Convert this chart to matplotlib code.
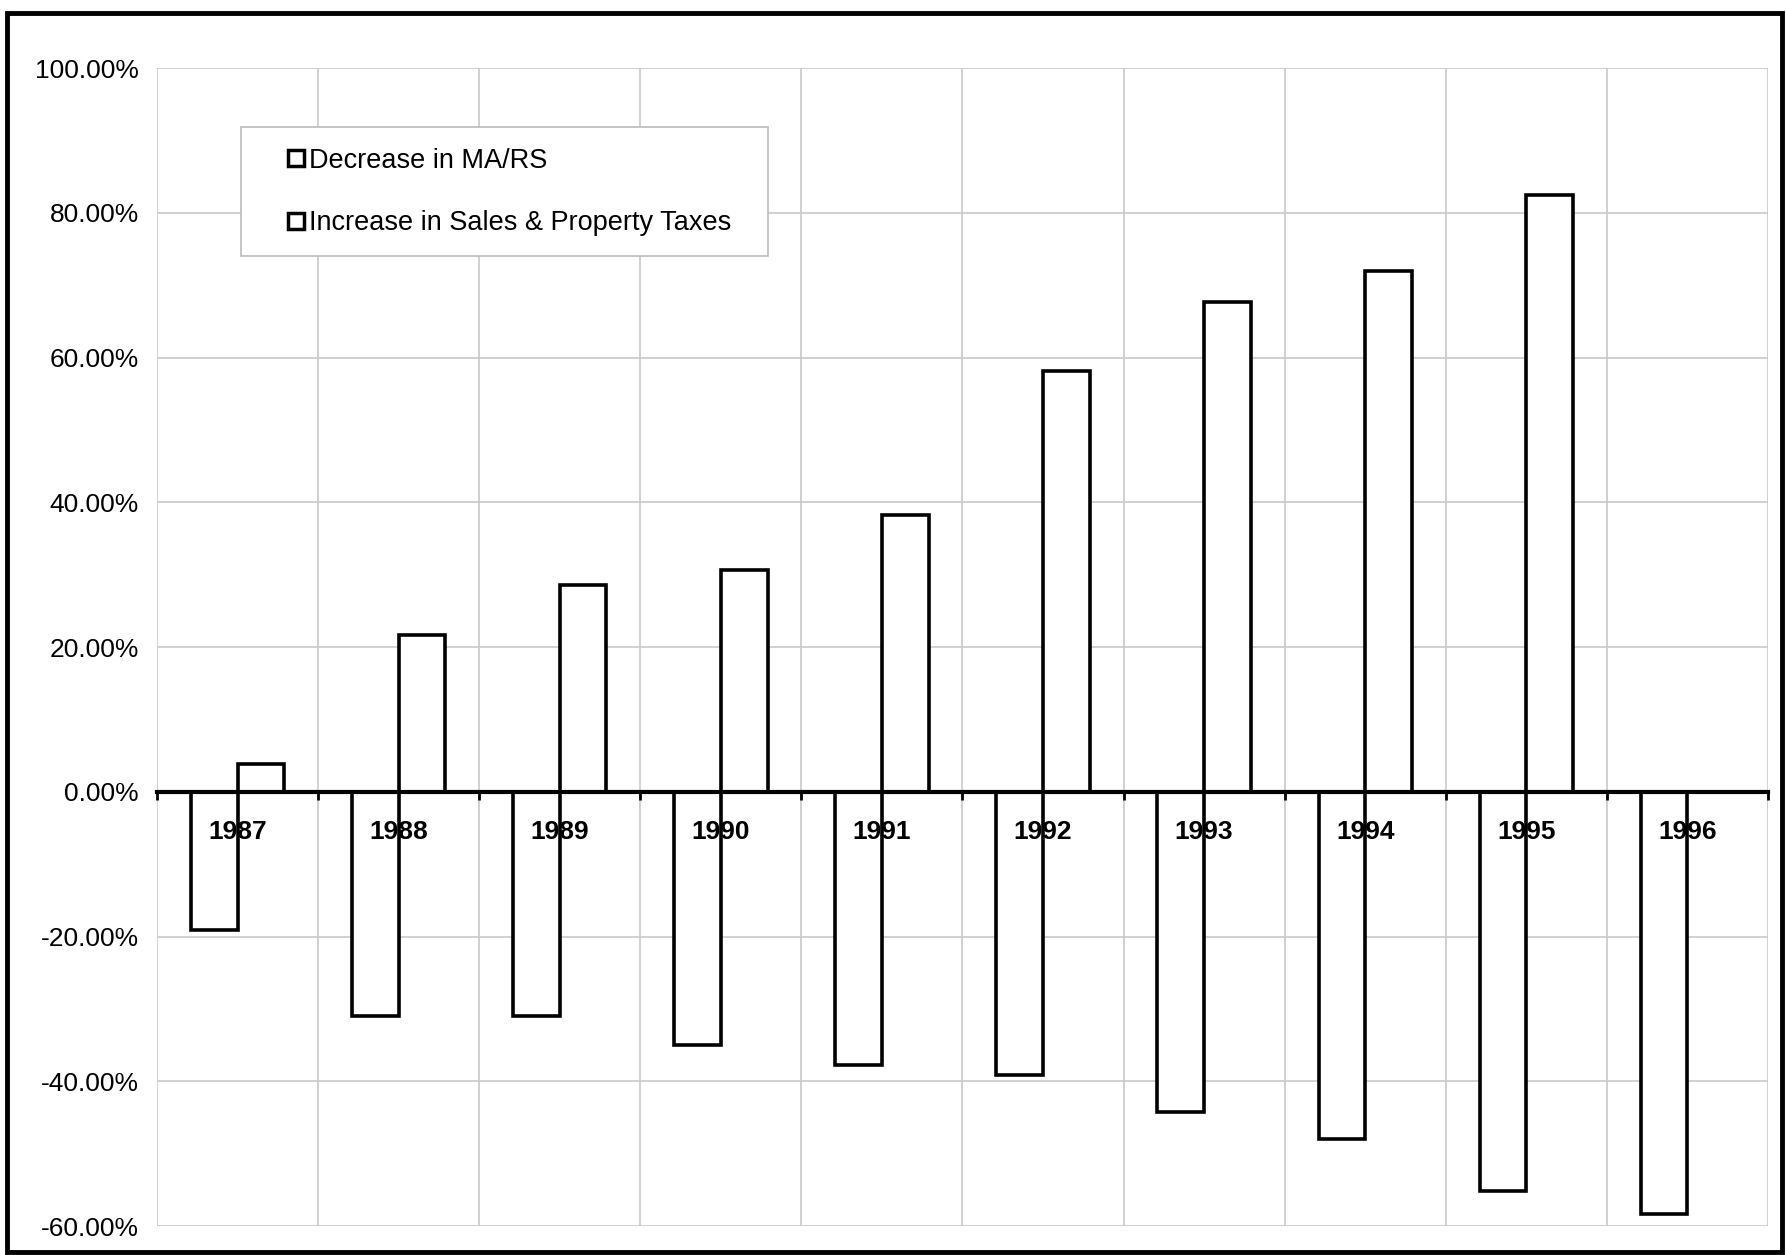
import matplotlib
matplotlib.use("Agg")
import matplotlib.pyplot as plt
from matplotlib.lines import Line2D
from matplotlib.patches import Rectangle
import numpy as np

# data (percent)
years = ['1987', '1988', '1989', '1990', '1991', '1992', '1993', '1994', '1995', '1996']
decrease_mars = [-19.1, -31.0, -31.0, -35.0, -37.8, -39.2, -44.3, -48.0, -55.1, -58.3]
increase_taxes = [3.8, 21.7, 28.5, 30.7, 38.3, 58.1, 67.7, 72.0, 82.4, np.nan]
yticks = [-60, -40, -20, 0, 20, 40, 60, 80, 100]
legend_labels = ['Decrease in MA/RS', 'Increase in Sales & Property Taxes']

plt.rcParams['font.family'] = ['Liberation Sans', 'DejaVu Sans']

fig = plt.figure(figsize=(17.86, 12.55), dpi=100)
ax = fig.add_axes([0.0879, 0.0231, 0.902, 0.9227])

x = np.arange(len(years))
w = 0.29
grid_col = '#c8c8c8'

# white fill first, labels in between, outlines on top
for off, vals in [(-w / 2, decrease_mars), (w / 2, increase_taxes)]:
    ax.bar(x + off, vals, width=w, color='white', edgecolor='none', zorder=2)
    ax.bar(x + off, vals, width=w, facecolor='none', edgecolor='black', linewidth=2.6, zorder=4)

for i, yr in enumerate(years):
    ax.annotate(yr, (x[i], 0), xytext=(0, -29), textcoords='offset points',
                ha='center', va='center', fontsize=19, fontweight='bold', zorder=3)

ax.set_xlim(-0.5, len(years) - 0.5)
ax.set_ylim(-60, 100)
ax.set_yticks(yticks)
ax.set_yticklabels(['%.2f%%' % v for v in yticks], fontsize=19)
ax.tick_params(axis='y', length=0, pad=13)

ax.set_xticks(np.arange(-0.5, len(years) + 0.5, 1))
ax.set_xticklabels([])
ax.tick_params(axis='x', direction='out', length=6, width=2, color='black')

ax.grid(True, color=grid_col, linewidth=1.2, zorder=0)
ax.set_axisbelow(True)

for s in ['top', 'right', 'left']:
    ax.spines[s].set_visible(False)
ax.spines['bottom'].set_position(('data', 0))
ax.spines['bottom'].set_linewidth(3)
ax.spines['bottom'].set_zorder(5)

handles = [Line2D([], [], linestyle='none', marker='s', markersize=11,
                  markerfacecolor='white', markeredgecolor='black', markeredgewidth=2.5)
           for _ in legend_labels]
leg = ax.legend(handles, legend_labels, loc='upper left', mode='expand',
                bbox_to_anchor=(0.0524, 0.8386, 0.327, 0.1102), fontsize=19.5,
                handlelength=2.5, handletextpad=-0.75, labelspacing=1.35,
                borderpad=0.75, fancybox=False, framealpha=1, borderaxespad=0)
leg.get_frame().set_edgecolor('#bbbbbb')
leg.get_frame().set_linewidth(1.2)
leg.set_zorder(6)

# outer frame around the whole picture
fig.patches.append(Rectangle((0.004, 0.002), 0.994, 0.988, transform=fig.transFigure,
                             fill=False, edgecolor='black', linewidth=3.5))

plt.savefig('out.png', dpi=100)
